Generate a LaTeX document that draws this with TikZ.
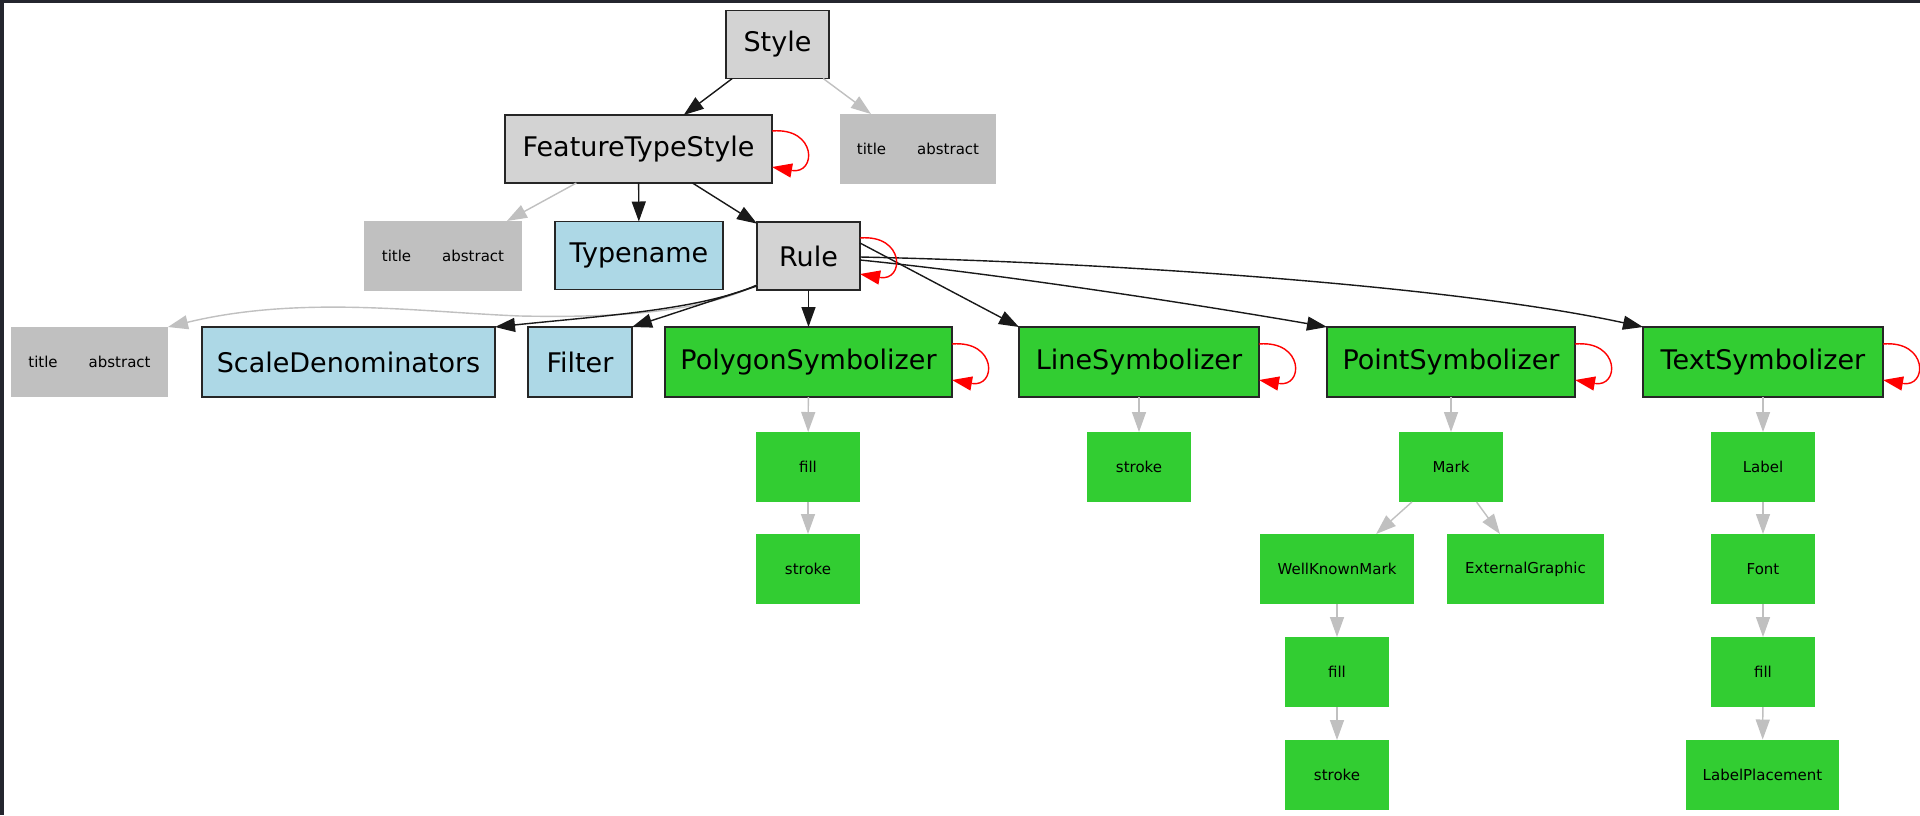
\documentclass[tikz,border=0pt]{standalone}
\usepackage{fontspec}
\setmainfont{DejaVu Sans}
\usetikzlibrary{arrows.meta,calc}
\definecolor{ltgray}{HTML}{D3D3D3}
\definecolor{silvergray}{HTML}{C0C0C0}
\definecolor{ltblue}{HTML}{ADD8E6}
\definecolor{limegreen}{HTML}{32CD32}
\definecolor{framecol}{HTML}{24262E}
\begin{document}
\begin{tikzpicture}[x=1pt,y=-1pt,
 base/.style={rectangle, inner sep=0pt, outer sep=0pt, text=black},
 big/.style={base, draw=black!85, line width=1.6pt, font=\fontsize{27}{30}\selectfont, minimum height=68pt},
 graynode/.style={big, fill=ltgray},
 bluenode/.style={big, fill=ltblue},
 greennode/.style={big, fill=limegreen},
 tabox/.style={base, fill=silvergray, font=\fontsize{15}{18}\selectfont, minimum height=70pt},
 leaf/.style={base, fill=limegreen, font=\fontsize{15}{18}\selectfont, minimum height=70pt},
 tipstyle/.style={-{Triangle[length=20pt,width=14pt]}},
 edge/.style={tipstyle, draw=black!90, line width=1.4pt},
 gedge/.style={tipstyle, draw=silvergray, line width=1.4pt},
 loopedge/.style={tipstyle, draw=red, line width=1.4pt},
]
% background and frame
\fill[white] (0,0) rectangle (1920,815);
\useasboundingbox (0,0) rectangle (1920,815);
\fill[framecol] (0,0) rectangle (1920,3);
\fill[framecol] (0,0) rectangle (4,815);

% nodes
\node[graynode, minimum width=103pt] (style) at (777.5,44.5) {Style};
\node[graynode, minimum width=267pt] (fts) at (638.5,149) {FeatureTypeStyle};
\node[tabox, minimum width=156pt] (ta1) at (918,149) {title\hspace{31pt}abstract};
\node[tabox, minimum width=158pt] (ta2) at (443,256) {title\hspace{31pt}abstract};
\node[bluenode, minimum width=168pt] (typename) at (639,255.5) {Typename};
\node[graynode, minimum width=103pt] (rule) at (808.5,256) {Rule};
\node[tabox, minimum width=157pt] (ta3) at (89.5,362) {title\hspace{31pt}abstract};
\node[bluenode, minimum width=293pt, minimum height=70pt] (scale) at (348.5,362) {ScaleDenominators};
\node[bluenode, minimum width=104pt, minimum height=70pt] (filter) at (580,362) {Filter};
\node[greennode, minimum width=287pt, minimum height=70pt] (poly) at (808.5,362) {PolygonSymbolizer};
\node[greennode, minimum width=240pt, minimum height=70pt] (line) at (1139,362) {LineSymbolizer};
\node[greennode, minimum width=248pt, minimum height=70pt] (point) at (1451,362) {PointSymbolizer};
\node[greennode, minimum width=240pt, minimum height=70pt] (text) at (1763,362) {TextSymbolizer};

\node[leaf, minimum width=104pt] (pfill) at (808,467) {fill};
\node[leaf, minimum width=104pt] (pstroke) at (808,569) {stroke};
\node[leaf, minimum width=104pt] (lstroke) at (1139,467) {stroke};
\node[leaf, minimum width=104pt] (mark) at (1451,467) {Mark};
\node[leaf, minimum width=154pt] (wkm) at (1337,569) {WellKnownMark};
\node[leaf, minimum width=157pt] (extg) at (1525.5,569) {ExternalGraphic};
\node[leaf, minimum width=104pt] (wfill) at (1337,672) {fill};
\node[leaf, minimum width=104pt] (wstroke) at (1337,775) {stroke};
\node[leaf, minimum width=104pt] (label) at (1763,467) {Label};
\node[leaf, minimum width=104pt] (font) at (1763,569) {Font};
\node[leaf, minimum width=104pt] (tfill) at (1763,672) {fill};
\node[leaf, minimum width=153pt] (lplace) at (1762.5,774.5) {LabelPlacement};

% edges
\draw[edge] (style) -- (fts);
\draw[gedge] (style) -- (ta1);
\draw[gedge] (fts) -- (ta2);
\draw[edge] (fts) -- (typename);
\draw[edge] (fts) -- (rule);

\draw[gedge] ([yshift=5pt]rule.south west) .. controls (700,312) and (620,318) .. (520,316)
   .. controls (420,312) and (300,295) .. (ta3.north east);
\draw[edge] ([yshift=5pt]rule.south west) .. controls (700,310) and (600,316) .. (scale.north east);
\draw[edge] ([yshift=4pt]rule.south west) -- (filter.north east);
\draw[edge] (rule) -- (poly);
\draw[edge] ([yshift=-21pt]rule.north east) -- (line.north west);
\draw[edge] ([yshift=-38pt]rule.north east) .. controls (1000,274) and (1200,305) .. (point.north west);
\draw[edge] ([yshift=-35pt]rule.north east) .. controls (1100,262) and (1450,285) .. (text.north west);

% self loops
\foreach \n in {fts,rule,poly,line,point,text}{
  \draw[loopedge] ($(\n.east)+(0,-18)$) .. controls +(45,-4) and +(45,8) .. ($(\n.east)+(0,18)$);
}

% leaf edges
\draw[gedge] (poly) -- (pfill);
\draw[gedge] (pfill) -- (pstroke);
\draw[gedge] (line) -- (lstroke);
\draw[gedge] (point) -- (mark);
\draw[gedge] (mark) -- (wkm);
\draw[gedge] (mark) -- (extg);
\draw[gedge] (wkm) -- (wfill);
\draw[gedge] (wfill) -- (wstroke);
\draw[gedge] (text) -- (label);
\draw[gedge] (label) -- (font);
\draw[gedge] (font) -- (tfill);
\draw[gedge] (tfill) -- (lplace);
\end{tikzpicture}
\end{document}
